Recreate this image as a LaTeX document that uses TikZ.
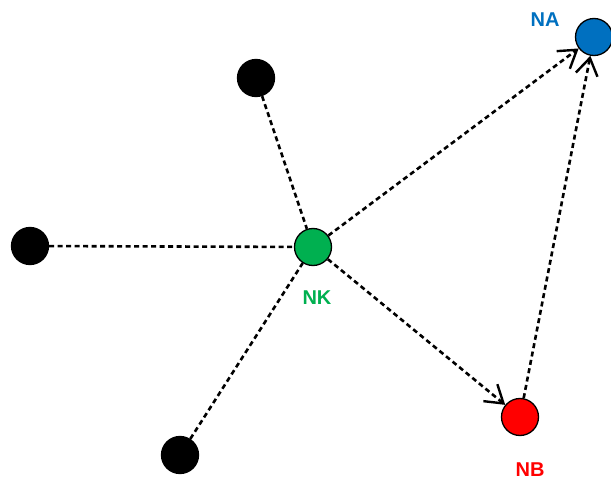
\documentclass[tikz,border=0pt]{standalone}
\usepackage{fontspec}
\setmainfont{Liberation Sans}
\usetikzlibrary{arrows.meta}
\usetikzlibrary{positioning}
\definecolor{nablue}{RGB}{0,112,192}
\definecolor{nkgreen}{RGB}{0,176,80}
\definecolor{nbred}{RGB}{255,0,0}
\tikzset{dot/.style={circle,draw,line width=1.3pt,minimum size=37pt,inner sep=0pt,fill=black},
lbl/.style={font=\fontsize{20}{22}\selectfont\bfseries},
link/.style={line width=2.6pt,dash pattern=on 5pt off 3.5pt},
tip/.style={-{Straight Barb[length=17pt,width=22pt,line width=2.4pt]}}}

\begin{document}
\begin{tikzpicture}[x=1pt,y=-1pt]
\useasboundingbox (0,0) rectangle (611,484);
\node (nk) at (313,247) [dot,fill=nkgreen] {};
\node (na) at (594,37) [dot,fill=nablue] {};
\node (nb) at (520,417) [dot,fill=nbred] {};
\node (b1) at (256,78) [dot] {};
\node (b2) at (30,246) [dot] {};
\node (b3) at (180,455) [dot] {};

\node (lk) at (317,298) [lbl,text=nkgreen] {NK};
\node (la) at (545,20) [lbl,text=nablue] {NA};
\node (lb) at (530,470) [lbl,text=nbred] {NB};

\draw[link] (b1) -- (nk);
\draw[link] (b2) -- (nk);
\draw[link] (b3) -- (nk);
\draw[link,tip] (nk) -- (na);
\draw[link,tip] (nk) -- (nb);
\draw[link,tip] (nb) -- (na);
\end{tikzpicture}
\end{document}
